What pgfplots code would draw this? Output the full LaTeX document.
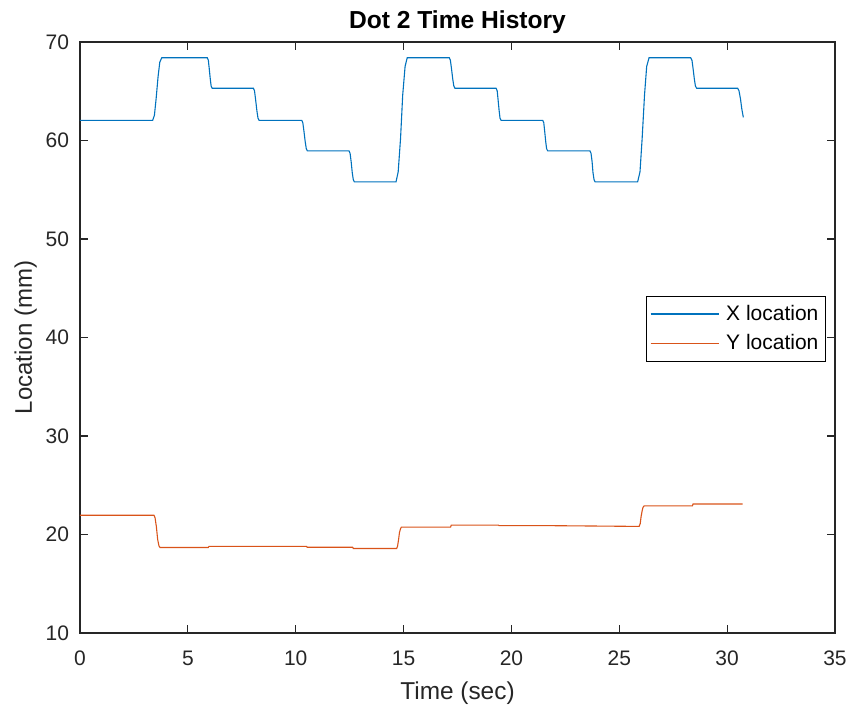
\documentclass[border=0pt]{standalone}
\usepackage{pgfplots}
\pgfplotsset{compat=1.18}
\usepackage{fontspec}
\setmainfont{Liberation Sans}

\definecolor{mblue}{rgb}{0,0.447,0.741}
\definecolor{morange}{rgb}{0.85,0.325,0.098}
\definecolor{axgray}{rgb}{0.15,0.15,0.15}

\begin{document}
\begin{tikzpicture}
\begin{axis}[
    scale only axis,
    width=377.5pt, height=295.5pt,
    xmin=0, xmax=35, ymin=10, ymax=70,
    xtick={0,5,...,35}, ytick={10,20,...,70},
    tick align=inside,
    major tick length=3.8pt,
    axis line style={axgray, line width=0.6pt},
    every tick/.style={axgray, line width=0.6pt},
    /pgf/number format/assume math mode=true,
    ticklabel style={font=\fontsize{10.5}{12}\selectfont, text=axgray},
    xticklabel style={yshift=-5.5pt},
    yticklabel style={xshift=-2pt},
    every axis title shift=0pt,
    title={Dot 2 Time History},
    title style={font=\bfseries\fontsize{12.3}{14}\selectfont,
        at={(axis description cs:0.5,1.022)}, anchor=base},
    xlabel={Time (sec)},
    xlabel style={font=\fontsize{12.2}{14}\selectfont, text=axgray,
        at={(axis description cs:0.5,-0.1117)}, anchor=base},
    ylabel={Location (mm)},
    ylabel style={font=\fontsize{12}{14}\selectfont, text=axgray,
        at={(axis description cs:-0.0636,0.5)}, anchor=base},
    legend cell align=left,
    legend style={at={(axis description cs:0.988,0.515)}, anchor=east,
        draw=black, line width=0.5pt, inner xsep=2pt, inner ysep=1.5pt,
        font=\fontsize{10.5}{12}\selectfont,
        nodes={inner xsep=1.5pt, inner ysep=2.8pt}},
    legend image code/.code={
        \draw[#1, line width=0.65pt] (0pt,0pt) -- (34pt,0pt);
        \path (36pt,0pt);},
]
\addplot[mblue, line width=0.55pt] coordinates {
    (0,62.05) (3.37,62.05)
    (3.45,62.56) (3.53,64.27) (3.62,66.5) (3.70,67.96) (3.79,68.4)
    (5.90,68.4)
    (5.95,68.15) (5.99,67.32) (6.04,66.23) (6.08,65.52) (6.13,65.3)
    (8.04,65.3)
    (8.09,65.04) (8.14,64.16) (8.20,63.03) (8.25,62.28) (8.30,62.05)
    (10.28,62.05)
    (10.33,61.80) (10.38,60.97) (10.44,59.88) (10.49,59.17) (10.54,58.95)
    (12.47,58.95)
    (12.52,58.70) (12.57,57.85) (12.62,56.75) (12.67,56.02) (12.72,55.8)
    (14.65,55.8)
    (14.75,56.81) (14.86,60.21) (14.96,64.62) (15.07,67.52) (15.17,68.4)
    (17.12,68.4)
    (17.17,68.15) (17.22,67.32) (17.28,66.23) (17.33,65.52) (17.38,65.3)
    (19.29,65.3)
    (19.34,65.04) (19.38,64.16) (19.43,63.03) (19.47,62.28) (19.52,62.05)
    (21.45,62.05)
    (21.50,61.80) (21.54,60.97) (21.59,59.88) (21.63,59.17) (21.68,58.95)
    (23.64,58.95)
    (23.69,58.70) (23.74,57.85) (23.78,56.75) (23.83,56.02) (23.88,55.8)
    (25.85,55.8)
    (25.96,56.81) (26.06,60.21) (26.17,64.62) (26.27,67.52) (26.38,68.4)
    (28.31,68.4)
    (28.37,68.15) (28.42,67.32) (28.48,66.23) (28.53,65.52) (28.59,65.3)
    (30.49,65.3)
    (30.55,65.05) (30.62,64.2) (30.68,63.2) (30.75,62.35)
};
\addlegendentry{X location}
\addplot[morange, line width=0.55pt] coordinates {
    (0,21.95) (3.43,21.95)
    (3.48,21.7) (3.54,20.8) (3.60,19.5) (3.66,18.85) (3.71,18.68)
    (5.95,18.68) (5.98,18.8) (10.50,18.8) (10.53,18.7)
    (12.64,18.7) (12.67,18.58) (14.68,18.58)
    (14.72,18.8) (14.77,19.5) (14.81,20.2) (14.86,20.6) (14.90,20.75)
    (17.18,20.75) (17.21,20.95) (19.40,20.95) (19.43,20.9)
    (21.60,20.9) (23.80,20.86) (25.92,20.82)
    (25.97,21.1) (26.01,21.8) (26.06,22.4) (26.10,22.75) (26.15,22.9)
    (28.39,22.9) (28.42,23.1) (30.72,23.1)
};
\addlegendentry{Y location}
\end{axis}
\pgfresetboundingbox
\path[use as bounding box] ([xshift=-40pt,yshift=-38.5pt]current axis.south west)
    rectangle ([xshift=8.5pt,yshift=21pt]current axis.north east);
\end{tikzpicture}
\end{document}
